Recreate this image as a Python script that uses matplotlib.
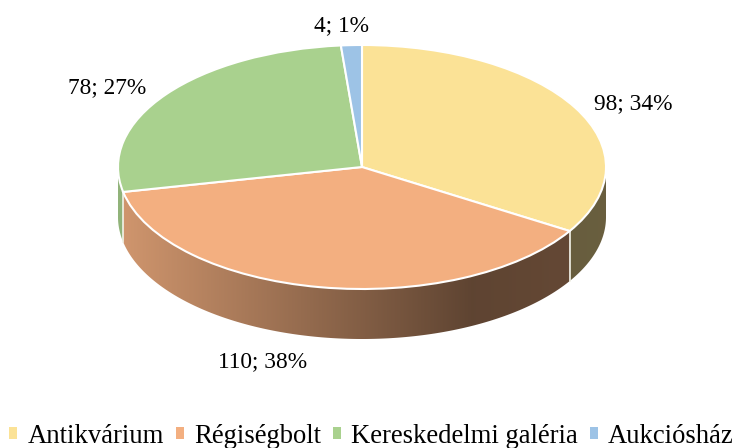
import numpy as np
import matplotlib
matplotlib.use("Agg")
import matplotlib.pyplot as plt
from matplotlib.patches import Patch, Polygon

plt.rcParams['font.family'] = ['Liberation Serif', 'DejaVu Serif']

categories = ['Antikvárium', 'Régiségbolt', 'Kereskedelmi galéria', 'Aukciósház']
values = [98, 110, 78, 4]
colors = ['#FBE296', '#F3AF80', '#A9D18E', '#9DC3E6']

W, H = 736, 448
cx, cy = 362, 167
rx, ry = 244, 122
depth = 50 / ry

fig = plt.figure(figsize=(W / 100, H / 100), dpi=100)
ax = fig.add_axes([0, 0, 1, 1])

total = sum(values)
xs = np.linspace(-1, 1, 400)
# sötétedés a vízszintes helyzet szerint
shade = np.interp(xs, [-1.0, 0.45, 1.0], [0.86, 0.39, 0.42])

angle = 90.0
edges = []
for val, col in zip(values, colors):
    next_angle = angle - val / total * 360
    edges.append(next_angle)
    # oldalfal, csak az alsó félkörön látszik
    lo, hi = max(next_angle, -180.0), min(angle, 0.0)
    if lo < hi:
        t = np.radians(np.linspace(lo, hi, 200))
        top = np.column_stack([np.cos(t), np.sin(t)])
        bottom = top[::-1] - [0, depth]
        wall = Polygon(np.vstack([top, bottom]), closed=True, facecolor='none',
                       edgecolor='none', transform=ax.transData)
        ax.add_patch(wall)
        base = np.array(matplotlib.colors.to_rgb(col))
        grad = base[None, None, :] * shade[None, :, None]
        im = ax.imshow(grad, extent=(-1, 1, -1 - depth, 0.2), aspect='auto',
                       interpolation='bilinear', zorder=1)
        im.set_clip_path(wall)
    angle = next_angle

# szeletek közti fehér élek az oldalfalon
for e in edges:
    if np.sin(np.radians(e)) < 0:
        x, y = np.cos(np.radians(e)), np.sin(np.radians(e))
        ax.plot([x, x], [y, y - depth], color='#F2F2E8', lw=1.2, zorder=2)

ax.pie(values, colors=colors, startangle=90, counterclock=False,
       wedgeprops={'edgecolor': 'white', 'linewidth': 1.5, 'zorder': 3})
ax.set_aspect('auto')
ax.set_xlim(-cx / rx, (W - cx) / rx)
ax.set_ylim(-(H - cy) / ry, cy / ry)
ax.axis('off')

# adatfeliratok
label_pos = [(633, 104), (263, 362), (107, 88), (342, 26)]
for val, (px, py) in zip(values, label_pos):
    fig.text(px / W, 1 - py / H, f"{val}; {round(val / total * 100)}%",
             fontsize=16.8, color='black', ha='center', va='center')

handles = [Patch(facecolor=c, edgecolor='none') for c in colors]
fig.legend(handles, categories, loc='center', bbox_to_anchor=(371.5 / W, 1 - 436 / H),
           ncol=4, frameon=False, fontsize=19.2, handlelength=0.3, handleheight=0.3,
           handletextpad=0.38, columnspacing=0.45, borderpad=0, borderaxespad=0)

fig.savefig('out.png', dpi=100)
